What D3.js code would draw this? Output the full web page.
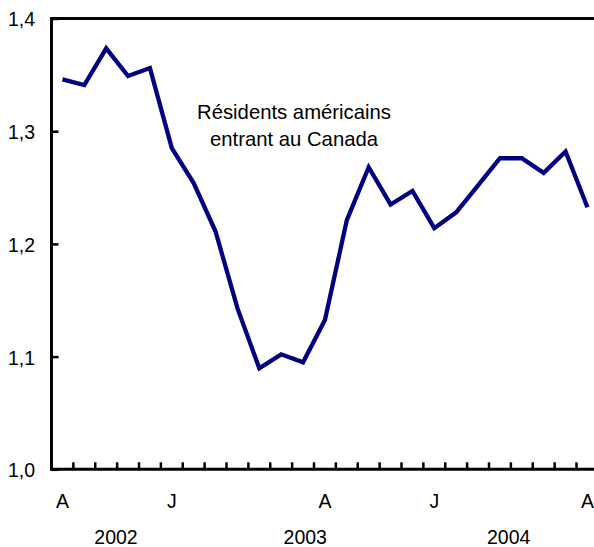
<!DOCTYPE html>
<html><head><meta charset="utf-8">
<script src="https://cdn.jsdelivr.net/npm/d3@7"></script>
<style>html,body{margin:0;padding:0;background:#fff;} svg{display:block;font-family:"Liberation Sans",Arial,Helvetica,sans-serif;}</style>
</head><body>
<script>
const values = [1.346,1.341,1.3735,1.349,1.356,1.285,1.254,1.211,1.143,1.0896,1.102,1.095,1.1325,1.221,1.268,1.235,1.247,1.214,1.228,1.252,1.276,1.276,1.263,1.282,1.2325];
const monthLabels = {0:"A",5:"J",12:"A",17:"J",24:"A"};
const yTicks = [1.0,1.1,1.2,1.3,1.4];
const yearLabels = [{label:"2002",at:2.45},{label:"2003",at:11.1},{label:"2004",at:20.4}];
const annotation = ["Résidents américains","entrant au Canada"];

const W=594,H=547;
const svg=d3.select("body").append("svg").attr("width",W).attr("height",H);
const mLeft=51.5, mTop=18.5, mBottom=469.3;
const step=21.875;
const x=d3.scaleLinear().domain([0,values.length-1]).range([mLeft+step/2,mLeft+step/2+step*(values.length-1)]);
const y=d3.scaleLinear().domain([1.0,1.4]).range([mBottom,mTop]);
const FS=19.5;

// top border
svg.append("line").attr("x1",mLeft).attr("x2",W).attr("y1",mTop).attr("y2",mTop).attr("stroke","#000").attr("stroke-width",3);
// y axis
const yAxis=d3.axisLeft(y).tickValues(yTicks).tickSize(-7).tickPadding(16.5).tickFormat(d=>d3.format(".1f")(d).replace(".",","));
const gy=svg.append("g").attr("transform",`translate(${mLeft},0)`).call(yAxis);
gy.select(".domain").attr("stroke","#000").attr("stroke-width",3).attr("d",`M0,${mTop-1.5}V${mBottom}`);
gy.selectAll(".tick line").attr("stroke","#000").attr("stroke-width",2.5);
gy.selectAll(".tick text").attr("font-size",FS).attr("fill","#000").attr("font-family","Liberation Sans, Arial, sans-serif").attr("dy","0.38em");

// x axis: ticks at band boundaries
const boundaries=d3.range(1,values.length+1).map(i=>i-0.5);
const gx=svg.append("g").attr("transform",`translate(0,${mBottom})`);
gx.append("line").attr("x1",mLeft-1.5).attr("x2",W).attr("stroke","#000").attr("stroke-width",3);
gx.selectAll("line.t").data(boundaries).join("line").attr("class","t")
  .attr("x1",d=>x(d)).attr("x2",d=>x(d)).attr("y1",0).attr("y2",-7).attr("stroke","#000").attr("stroke-width",2.5);
gx.selectAll("text.m").data(Object.entries(monthLabels)).join("text").attr("class","m")
  .attr("x",d=>x(+d[0])).attr("y",38.5).attr("text-anchor","middle").attr("font-size",FS).text(d=>d[1]);
gx.selectAll("text.yr").data(yearLabels).join("text").attr("class","yr")
  .attr("x",d=>x(d.at)).attr("y",75).attr("text-anchor","middle").attr("font-size",FS).text(d=>d.label);

// line
svg.append("path").datum(values).attr("fill","none").attr("stroke","#000080").attr("stroke-width",4.3)
  .attr("stroke-linejoin","miter").attr("d",d3.line().x((d,i)=>x(i)).y(d=>y(d)));

// annotation
svg.selectAll("text.ann").data(annotation).join("text").attr("class","ann")
  .attr("x",294).attr("y",(d,i)=>118.5+i*27).attr("text-anchor","middle").attr("font-size",20.3).text(d=>d);
</script>
</body></html>
